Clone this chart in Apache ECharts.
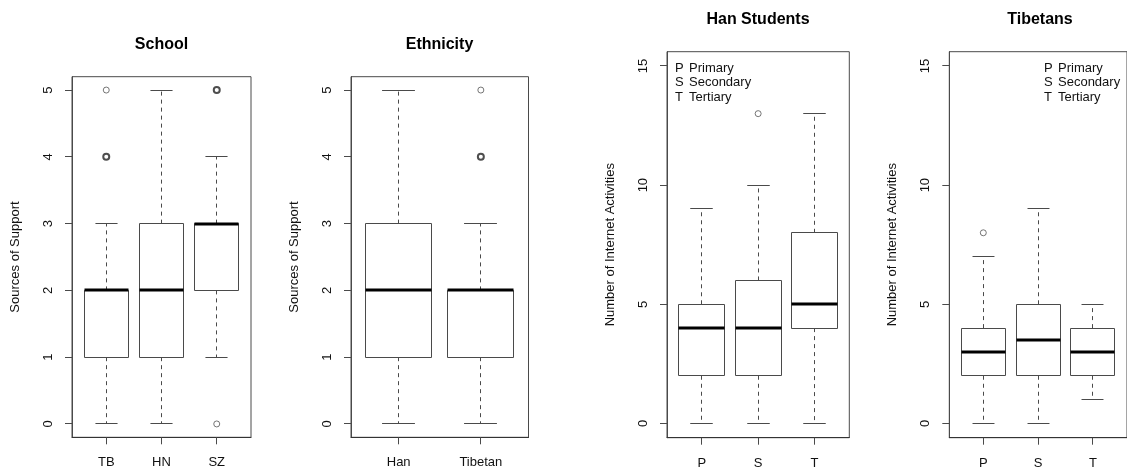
<!DOCTYPE html>
<html>
<head>
<meta charset="utf-8">
<title>Sources of Support and Internet Activities</title>
<script src="https://cdn.jsdelivr.net/npm/echarts@6/dist/echarts.min.js"></script>
<style>
  html, body { margin: 0; padding: 0; background: #fff; }
  #chart { width: 1127px; height: 472px; }
</style>
</head>
<body>
<div id="chart"></div>
<script>
// ---- data: five-number summaries [min, Q1, median, Q3, max] and outliers ----
const schoolCats = ['TB', 'HN', 'SZ'];
const schoolStats = [[0, 1, 2, 2, 3], [0, 1, 2, 3, 5], [1, 2, 3, 3, 4]];
const schoolOutliers = [[4, 4, 5], [], [5, 5, 0]];

const ethnicCats = ['Han', 'Tibetan'];
const ethnicStats = [[0, 1, 2, 3, 5], [0, 1, 2, 2, 3]];
const ethnicOutliers = [[], [4, 4, 5]];

const levelCats = ['P', 'S', 'T'];
const levelNames = ['Primary', 'Secondary', 'Tertiary'];
const hanStats = [[0, 2, 4, 5, 9], [0, 2, 4, 6, 10], [0, 4, 5, 8, 13]];
const hanOutliers = [[], [13], []];
const tibStats = [[0, 2, 3, 4, 7], [0, 2, 3.5, 5, 9], [1, 2, 3, 4, 5]];
const tibOutliers = [[8], [], []];

const supportTicks = [0, 1, 2, 3, 4, 5];
const activityTicks = [0, 5, 10, 15];

// ---- styling ----
const FONT = '"Liberation Sans", Arial, Helvetica, sans-serif';
const LINE = '#4a4a4a';
const TEXT = '#111';
const TICK_LEN = 7;

// panel layout in pixels
const panels = [
  { title: 'School',       cats: schoolCats, stats: schoolStats, out: schoolOutliers,
    ticks: supportTicks, yName: 'Sources of Support',
    left: 72, top: 76.7, width: 179, height: 360.6, titleX: 161.5 },
  { title: 'Ethnicity',    cats: ethnicCats, stats: ethnicStats, out: ethnicOutliers,
    ticks: supportTicks, yName: 'Sources of Support',
    left: 351, top: 76.7, width: 177.5, height: 360.6, titleX: 439.5 },
  { title: 'Han Students', cats: levelCats, stats: hanStats, out: hanOutliers,
    ticks: activityTicks, yName: 'Number of Internet Activities',
    left: 667, top: 51.7, width: 182.3, height: 386, titleX: 758, legendX: 675 },
  { title: 'Tibetans',     cats: levelCats, stats: tibStats, out: tibOutliers,
    ticks: activityTicks, yName: 'Number of Internet Activities',
    left: 949.3, top: 51.7, width: 182.3, height: 386, titleX: 1040, legendX: 1044 }
];

// R-style axis extension: 4% on each side of the data range
function padRange(lo, hi) {
  const d = (hi - lo) * 0.04;
  return [lo - d, hi + d];
}

const crisp = v => Math.round(v - 0.5) + 0.5;

// draws one box: dashed whiskers, staples, box and heavy median
function renderBox(params, api) {
  const x = api.value(0);
  const vals = [1, 2, 3, 4, 5].map(i => api.value(i));
  const half = api.size([0.4, 0])[0];
  const staple = half * 0.5;
  const cx = crisp(api.coord([x, 0])[0]);
  const y = vals.map(v => api.coord([x, v])[1]);
  const [yMin, yQ1, yMed, yQ3, yMax] = y;
  const l = crisp(cx - half), r = crisp(cx + half);
  const thin = { stroke: LINE, lineWidth: 1 };
  const dashed = { stroke: LINE, lineWidth: 1, lineDash: [4, 4] };
  const children = [];
  if (yQ1 !== yMin) children.push({ type: 'line', shape: { x1: cx, y1: yQ1, x2: cx, y2: yMin }, style: dashed });
  if (yQ3 !== yMax) children.push({ type: 'line', shape: { x1: cx, y1: yQ3, x2: cx, y2: yMax }, style: dashed });
  children.push({ type: 'line', shape: { x1: cx - staple, y1: crisp(yMin), x2: cx + staple, y2: crisp(yMin) }, style: thin });
  children.push({ type: 'line', shape: { x1: cx - staple, y1: crisp(yMax), x2: cx + staple, y2: crisp(yMax) }, style: thin });
  children.push({ type: 'rect', shape: { x: l, y: crisp(yQ3), width: r - l, height: crisp(yQ1) - crisp(yQ3) },
                  style: { fill: 'rgba(0,0,0,0)', stroke: LINE, lineWidth: 1 } });
  children.push({ type: 'line', shape: { x1: l, y1: Math.round(yMed), x2: r, y2: Math.round(yMed) },
                  style: { stroke: '#000', lineWidth: 3 } });
  return { type: 'group', children };
}

// outward tick marks below the plot frame, one per category
function renderXTick(params, api) {
  const cs = params.coordSys;
  const x = crisp(api.coord([api.value(0), 0])[0]);
  const y0 = cs.y + cs.height;
  return { type: 'line', shape: { x1: x, y1: y0, x2: x, y2: y0 + TICK_LEN },
           style: { stroke: LINE, lineWidth: 1 } };
}

// outward tick marks left of the plot frame, one per labelled value
function renderYTick(params, api) {
  const cs = params.coordSys;
  const y = crisp(api.coord([1, api.value(0)])[1]);
  return { type: 'line', shape: { x1: cs.x - TICK_LEN, y1: y, x2: cs.x, y2: y },
           style: { stroke: LINE, lineWidth: 1 } };
}

const grid = [], xAxis = [], yAxis = [], series = [], graphic = [];

panels.forEach((p, i) => {
  const n = p.cats.length;
  const [xMin, xMax] = padRange(0.5, n + 0.5);
  const [yMin, yMax] = padRange(p.ticks[0], p.ticks[p.ticks.length - 1]);
  const xVals = p.cats.map((_, k) => k + 1);

  grid.push({ left: p.left, top: p.top, width: p.width, height: p.height,
              show: true, borderColor: LINE, borderWidth: 1, backgroundColor: 'transparent' });

  xAxis.push({
    gridIndex: i, type: 'value', min: xMin, max: xMax, position: 'bottom',
    axisLine: { show: true, onZero: false, lineStyle: { color: '#333', width: 1 } },
    splitLine: { show: false },
    axisTick: { show: false },
    axisLabel: { customValues: xVals, formatter: v => p.cats[Math.round(v) - 1],
                 margin: 19, fontSize: 13, fontFamily: FONT, color: TEXT }
  });

  yAxis.push({
    gridIndex: i, type: 'value', min: yMin, max: yMax, position: 'left',
    name: p.yName, nameLocation: 'middle', nameGap: 50,
    nameTextStyle: { fontSize: 13, fontFamily: FONT, color: TEXT },
    axisLine: { show: true, onZero: false, lineStyle: { color: LINE, width: 1 } },
    splitLine: { show: false },
    axisTick: { show: false },
    axisLabel: { customValues: p.ticks, rotate: 90, margin: 17,
                 fontSize: 13, fontFamily: FONT, color: TEXT }
  });

  series.push({
    type: 'custom', xAxisIndex: i, yAxisIndex: i, clip: false,
    renderItem: renderXTick, encode: { x: 0 },
    data: xVals.map(v => [v]), silent: true
  });
  series.push({
    type: 'custom', xAxisIndex: i, yAxisIndex: i, clip: false,
    renderItem: renderYTick, encode: { y: 0 },
    data: p.ticks.map(v => [v]), silent: true
  });

  series.push({
    type: 'custom', xAxisIndex: i, yAxisIndex: i,
    renderItem: renderBox,
    encode: { x: 0, y: [1, 2, 3, 4, 5] },
    data: p.stats.map((s, k) => [k + 1].concat(s)),
    silent: true
  });

  // outliers: repeated values are drawn with a heavier ring
  const pts = [];
  p.out.forEach((vals, k) => {
    const counts = {};
    vals.forEach(v => { counts[v] = (counts[v] || 0) + 1; });
    Object.keys(counts).forEach(v => {
      pts.push({ value: [k + 1, Number(v)],
                 itemStyle: { borderWidth: counts[v] > 1 ? 2 : 1,
                              borderColor: counts[v] > 1 ? '#222' : '#555' } });
    });
  });
  series.push({
    type: 'scatter', xAxisIndex: i, yAxisIndex: i,
    symbol: 'circle', symbolSize: 6,
    itemStyle: { color: 'rgba(0,0,0,0)' },
    data: pts, silent: true
  });

  graphic.push({
    type: 'text', x: p.titleX, y: p.top - 32,
    style: { text: p.title, font: 'bold 16px ' + FONT, fill: '#000',
             textAlign: 'center', textVerticalAlign: 'middle' }
  });

  if (p.legendX !== undefined) {
    p.cats.forEach((c, k) => {
      const y = 68 + k * 14.5;
      graphic.push({ type: 'text', x: p.legendX, y,
        style: { text: c, font: '13px ' + FONT, fill: TEXT, textVerticalAlign: 'middle' } });
      graphic.push({ type: 'text', x: p.legendX + 14, y,
        style: { text: levelNames[k], font: '13px ' + FONT, fill: TEXT, textVerticalAlign: 'middle' } });
    });
  }
});

const chart = echarts.init(document.getElementById('chart'), null, { renderer: 'canvas' });
chart.setOption({
  animation: false,
  backgroundColor: '#fff',
  grid, xAxis, yAxis, series, graphic
});
</script>
</body>
</html>
